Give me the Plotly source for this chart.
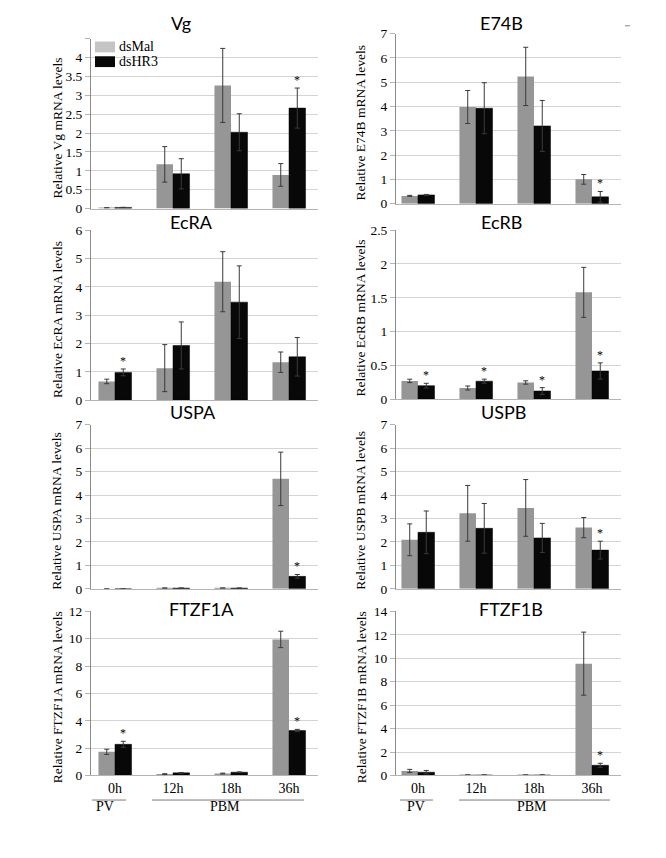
import plotly.graph_objects as go

# ---------------- data ----------------
categories = ["0h", "12h", "18h", "36h"]
genes = ["Vg", "E74B", "EcRA", "EcRB", "USPA", "USPB", "FTZF1A", "FTZF1B"]

vg_mal = [0.02, 1.17, 3.26, 0.89]
vg_mal_err = [0.0, 0.47, 0.98, 0.30]
vg_hr3 = [0.03, 0.92, 2.02, 2.66]
vg_hr3_err = [0.0, 0.40, 0.49, 0.53]
vg_sig = [0, 0, 0, 1]

e74b_mal = [0.32, 3.98, 5.24, 1.00]
e74b_mal_err = [0.02, 0.68, 1.20, 0.20]
e74b_hr3 = [0.36, 3.93, 3.20, 0.28]
e74b_hr3_err = [0.02, 1.05, 1.05, 0.22]
e74b_sig = [0, 0, 0, 1]

ecra_mal = [0.66, 1.13, 4.18, 1.34]
ecra_mal_err = [0.08, 0.83, 1.06, 0.36]
ecra_hr3 = [0.98, 1.93, 3.46, 1.53]
ecra_hr3_err = [0.12, 0.83, 1.28, 0.68]
ecra_sig = [1, 0, 0, 0]

ecrb_mal = [0.27, 0.165, 0.247, 1.58]
ecrb_mal_err = [0.025, 0.03, 0.025, 0.37]
ecrb_hr3 = [0.20, 0.266, 0.121, 0.417]
ecrb_hr3_err = [0.035, 0.03, 0.05, 0.12]
ecrb_sig = [1, 1, 1, 1]

uspa_mal = [0.0, 0.03, 0.03, 4.69]
uspa_mal_err = [0.0, 0.0, 0.0, 1.14]
uspa_hr3 = [0.0, 0.03, 0.03, 0.53]
uspa_hr3_err = [0.0, 0.0, 0.0, 0.08]
uspa_sig = [0, 0, 0, 1]

uspb_mal = [2.09, 3.22, 3.45, 2.61]
uspb_mal_err = [0.68, 1.19, 1.21, 0.43]
uspb_hr3 = [2.41, 2.58, 2.17, 1.65]
uspb_hr3_err = [0.91, 1.06, 0.62, 0.38]
uspb_sig = [0, 0, 0, 1]

ftzf1a_mal = [1.73, 0.10, 0.14, 9.95]
ftzf1a_mal_err = [0.19, 0.03, 0.03, 0.60]
ftzf1a_hr3 = [2.28, 0.19, 0.24, 3.29]
ftzf1a_hr3_err = [0.22, 0.03, 0.02, 0.08]
ftzf1a_sig = [1, 0, 0, 1]

ftzf1b_mal = [0.39, 0.04, 0.04, 9.54]
ftzf1b_mal_err = [0.13, 0.0, 0.0, 2.69]
ftzf1b_hr3 = [0.28, 0.04, 0.04, 0.87]
ftzf1b_hr3_err = [0.15, 0.0, 0.0, 0.17]
ftzf1b_sig = [0, 0, 0, 1]

y_max = [4.5, 7, 6, 2.5, 7, 7, 12, 14]
y_step = [0.5, 1, 1, 0.5, 1, 1, 2, 2]

series_names = ["dsMal", "dsHR3"]

# ---------------- layout helpers ----------------
W, H = 666, 858
GREY = "#969696"
GREY_LEGEND = "#c4c4c4"
BLACK = "#080808"
SERIF = "Liberation Serif"
TITLEF = "Lato"

panels = [
    (vg_mal, vg_mal_err, vg_hr3, vg_hr3_err, vg_sig),
    (e74b_mal, e74b_mal_err, e74b_hr3, e74b_hr3_err, e74b_sig),
    (ecra_mal, ecra_mal_err, ecra_hr3, ecra_hr3_err, ecra_sig),
    (ecrb_mal, ecrb_mal_err, ecrb_hr3, ecrb_hr3_err, ecrb_sig),
    (uspa_mal, uspa_mal_err, uspa_hr3, uspa_hr3_err, uspa_sig),
    (uspb_mal, uspb_mal_err, uspb_hr3, uspb_hr3_err, uspb_sig),
    (ftzf1a_mal, ftzf1a_mal_err, ftzf1a_hr3, ftzf1a_hr3_err, ftzf1a_sig),
    (ftzf1b_mal, ftzf1b_mal_err, ftzf1b_hr3, ftzf1b_hr3_err, ftzf1b_sig),
]

# pixel geometry: (x_left, x_right, x_range_start), (y_top, y_bottom)
col_geom = [(83, 310, -0.414), (388, 613, -0.379)]
row_geom = [[(24, 197), (19, 192)], [(219, 392), (219, 391)],
            [(417, 584), (417, 584)], [(607, 774), (607, 774)]]
title_pos = [(173, 8), (493, 8), (183, 211), (493, 211),
             (185, 404), (495, 404), (193, 605), (503, 605)]
ytitle_x = [49, 353]


def px_x(p):
    return p / W


def px_y(p):
    return 1 - p / H


fig = go.Figure()
annotations = []
shapes = []

for i, (mal, mal_e, hr3, hr3_e, sig) in enumerate(panels):
    r, c = divmod(i, 2)
    n = i + 1
    xa = "x" if n == 1 else f"x{n}"
    ya = "y" if n == 1 else f"y{n}"
    fig.add_trace(go.Bar(
        x=categories, y=mal, name=series_names[0], marker=dict(color=GREY, line=dict(width=0)),
        error_y=dict(type="data", array=mal_e, color="#3a3a3a", thickness=1, width=2.5),
        xaxis=xa, yaxis=ya, showlegend=False, legendgroup="mal", offsetgroup="a"))
    fig.add_trace(go.Bar(
        x=categories, y=hr3, name=series_names[1], marker=dict(color=BLACK, line=dict(color="black", width=0.5)),
        error_y=dict(type="data", array=hr3_e, color="#3a3a3a", thickness=1, width=2.5),
        xaxis=xa, yaxis=ya, showlegend=False, legendgroup="hr3", offsetgroup="b"))

    xl, xr, x0 = col_geom[c]
    yt, yb = row_geom[r][c]
    ticks = []
    v = 0.0
    while v <= y_max[i] + 1e-9:
        ticks.append(round(v, 3))
        v += y_step[i]
    ticktext = [("%g" % t) for t in ticks]
    if genes[i] == "Vg":
        ticktext[-1] = ""
    fig.update_layout(**{
        ("xaxis" if n == 1 else f"xaxis{n}"): dict(
            domain=[px_x(xl), px_x(xr)], anchor=ya, type="category",
            range=[x0, 3.5], showgrid=False, showline=True, linecolor="#b4b4b4",
            linewidth=1, ticks="", showticklabels=(r == 3),
            tickfont=dict(family=SERIF, size=14, color="black"), fixedrange=True),
        ("yaxis" if n == 1 else f"yaxis{n}"): dict(
            domain=[px_y(yb), px_y(yt)], anchor=xa, range=[0, y_max[i]],
            tickvals=ticks, ticktext=ticktext, showgrid=True, gridcolor="#d4d4d4",
            gridwidth=1, zeroline=False, showline=True, linecolor="#8c8c8c", linewidth=1,
            ticks="outside", ticklen=5, tickcolor="#b4b4b4",
            tickfont=dict(family=SERIF, size=13.5, color="black"), fixedrange=True),
    })

    # panel title
    tx, ty = title_pos[i]
    annotations.append(dict(text=genes[i], x=px_x(tx), y=px_y(ty), xref="paper", yref="paper",
                            showarrow=False, xanchor="center", yanchor="middle",
                            font=dict(family=TITLEF, size=18, color="black")))
    # y-axis title
    annotations.append(dict(text=f"Relative {genes[i]} mRNA levels", x=px_x(ytitle_x[c]),
                            y=px_y((yt + yb) / 2 + 4), xref="paper", yref="paper",
                            showarrow=False, textangle=-90, xanchor="center", yanchor="middle",
                            font=dict(family=SERIF, size=13.5, color="black")))
    # significance asterisks
    for k, s in enumerate(sig):
        if s:
            annotations.append(dict(text="*", x=categories[k], y=hr3[k] + hr3_e[k],
                                    xref=xa, yref=ya, showarrow=False, xanchor="center",
                                    yanchor="bottom", xshift=8.3, yshift=-1,
                                    font=dict(family=SERIF, size=12, color="#000000")))

# legend drawn in the Vg panel (swatch + label), matching the original's compact legend
legend_items = [(series_names[0], GREY_LEGEND, 32.5), (series_names[1], BLACK, 47.5)]
for name, col, yc in legend_items:
    shapes.append(dict(type="rect", xref="paper", yref="paper",
                       x0=px_x(87), x1=px_x(107), y0=px_y(yc + 5.5), y1=px_y(yc - 5.5),
                       fillcolor=col, line=dict(width=0)))
    annotations.append(dict(text=name, x=px_x(109), y=px_y(yc), xref="paper", yref="paper",
                            showarrow=False, xanchor="left", yanchor="middle",
                            font=dict(family=SERIF, size=14, color="black")))

# PV / PBM group labels under bottom row
group_lines = [(84, 118), (144, 296), (392, 425), (451, 602)]
group_labels = [("PV", 97), ("PBM", 217), ("PV", 408), ("PBM", 524)]
for (a, b) in group_lines:
    shapes.append(dict(type="line", xref="paper", yref="paper", x0=px_x(a), x1=px_x(b),
                       y0=px_y(799), y1=px_y(799), line=dict(color="#7a7a7a", width=1)))
for (t, xc) in group_labels:
    annotations.append(dict(text=t, x=px_x(xc), y=px_y(806), xref="paper", yref="paper",
                            showarrow=False, xanchor="center", yanchor="middle",
                            font=dict(family=SERIF, size=14, color="black")))

# small stray mark at top right
shapes.append(dict(type="line", xref="paper", yref="paper", x0=px_x(617), x1=px_x(622),
                   y0=px_y(11), y1=px_y(11), line=dict(color="#888888", width=1)))

fig.update_layout(
    width=W, height=H, margin=dict(l=0, r=0, t=0, b=0),
    paper_bgcolor="white", plot_bgcolor="white",
    barmode="group", bargap=0.43, bargroupgap=0,
    showlegend=False,
    annotations=annotations, shapes=shapes,
)

fig.write_html("out.html")
